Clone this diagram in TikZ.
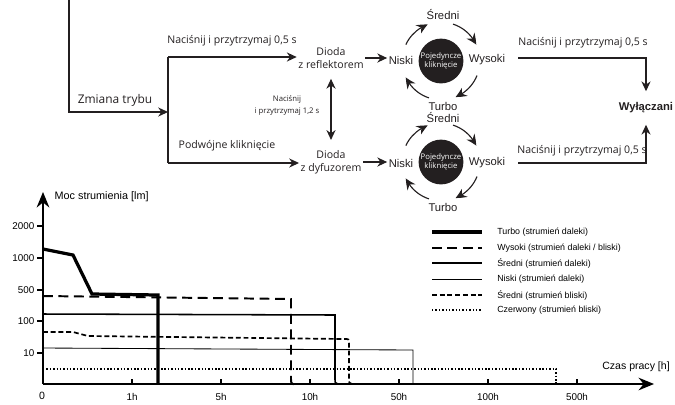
\documentclass[tikz,border=0pt]{standalone}
\usepackage{fontspec}
\setmainfont{Liberation Sans}
\newfontfamily\myriad{Open Sans}
\usetikzlibrary{arrows.meta,bending,positioning}
\definecolor{ink}{RGB}{35,31,32}

\tikzset{
  flow/.style={draw=ink,line width=0.8pt,-{Stealth[length=7pt,width=6.5pt]}},
  turn/.style={draw=ink,line width=0.8pt,-{Stealth[length=7.5pt,width=7pt,bend]}},
  say/.style={font=\myriad\fontsize{7.5}{9.5}\selectfont,text=ink,inner sep=1pt,align=center},
  small/.style={font=\myriad\fontsize{5.5}{8.5}\selectfont,text=ink,inner sep=1pt,align=center},
  mode/.style={font=\fontsize{8}{9}\selectfont,text=ink,inner sep=1pt},
  disc/.style={circle,fill=ink,minimum size=1.12cm,inner sep=0pt,text=white,align=center,
    font=\myriad\fontsize{5.5}{6.5}\selectfont},
  axis/.style={line width=1.1pt,-{Stealth[length=11pt,width=9pt]}},
  axtick/.style={line width=1pt},
  num/.style={font=\fontsize{7}{8}\selectfont,inner sep=1pt},
  leg/.style={font=\fontsize{6.3}{7}\selectfont,anchor=west,inner sep=0pt},
  turboline/.style={line width=2.3pt},
  wysokiline/.style={line width=1.4pt,dash pattern=on 7pt off 4pt},
  sredline/.style={line width=1.1pt},
  niskiline/.style={line width=0.6pt},
  sredbline/.style={line width=1.2pt,dash pattern=on 3.5pt off 2pt},
  redline/.style={line width=1.2pt,dash pattern=on 1pt off 1.4pt}
}

\begin{document}
\begin{tikzpicture}[x=0.025cm,y=-0.025cm]
\useasboundingbox (0,0) rectangle (675,404);

% mode switching
\coordinate (top) at (69,0);
\coordinate (fork) at (168,112);
\coordinate (forkT) at (168,57);
\coordinate (forkB) at (168,163);
\node[say,font=\myriad\fontsize{8.5}{10}\selectfont] (zmiana) at (115,100) {Zmiana trybu};
\node[say] (naci) at (232,41) {Naciśnij i przytrzymaj 0,5 s};
\node[say] (podw) at (227,146) {Podwójne kliknięcie};
\node[say] (refl) at (331,58) {Dioda\\z reflektorem};
\node[say] (dyf) at (331,162) {Dioda\\z dyfuzorem};
\node[small] (dwa) at (287,105) {Naciśnij\\i przytrzymaj 1,2 s};

\draw[flow] (top) |- (fork);
\draw[draw=ink,line width=0.8pt] (forkT) -- (forkB);
\draw[flow] (forkT) -- (forkT -| refl.west);
\draw[flow] (forkB) -- (forkB -| dyf.west);
\draw[flow,{Stealth[length=7pt,width=6.5pt]}-{Stealth[length=7pt,width=6.5pt]}]
  ([yshift=-6pt]refl.south) -- ([yshift=6pt]dyf.north);

% single click cycles
\node[disc] (discA) at (441,61) {Pojedyncze\\kliknięcie};
\node[disc] (discB) at (441,162) {Pojedyncze\\kliknięcie};
\node[mode] (niskiA) at (401,60) {Niski};
\node[mode] (sredniA) at (443,15) {Średni};
\node[mode] (wysokiA) at (487,60) {Wysoki};
\node[mode] (turboA) at (443,106) {Turbo};
\node[mode] (niskiB) at (401,163) {Niski};
\node[mode] (sredniB) at (443,118) {Średni};
\node[mode] (wysokiB) at (487,163) {Wysoki};
\node[mode] (turboB) at (443,207) {Turbo};

\draw[flow] (refl.east) -- (refl.east -| niskiA.west);
\draw[flow] (dyf.east) -- (dyf.east -| niskiB.west);

\foreach \c in {discA,discB} {
  \draw[turn] ([shift={(155:0.97cm)}]\c.center) arc[start angle=155,end angle=110,radius=0.97cm];
  \draw[turn] ([shift={(72:0.97cm)}]\c.center) arc[start angle=72,end angle=25,radius=0.97cm];
  \draw[turn] ([shift={(-22:0.97cm)}]\c.center) arc[start angle=-22,end angle=-68,radius=0.97cm];
  \draw[turn] ([shift={(-108:0.97cm)}]\c.center) arc[start angle=-108,end angle=-155,radius=0.97cm];
}

% switching off
\node[mode,font=\bfseries\fontsize{8}{9}\selectfont,inner ysep=8pt] (wyl) at (646,108) {Wyłączani};
\coordinate (outA) at (518,58);
\coordinate (outB) at (518,163);
\node[say] (offA) at (583,43) {Naciśnij i przytrzymaj 0,5 s};
\node[say] (offB) at (582,151) {Naciśnij i przytrzymaj 0,5 s};
\draw[flow] (outA) -| (wyl.north);
\draw[flow] (outB) -| (wyl.south);

% runtime chart
\draw[turboline] (43,249) -- (73,255) -- (92,294) -- (158,295) -- (158,384);
\draw[wysokiline] (43,296) -- (291,299) -- (291,379) .. controls (291,383) .. (295,385);
\draw[sredline] (43,314) -- (335,315) -- (335,379) .. controls (335,383) .. (338,384);
\draw[niskiline] (43,348) -- (413,350) -- (413,384);
\draw[sredbline] (43,332) -- (73,332) -- (88,336) -- (344,339) .. controls (349,339) .. (349,343)
  -- (349,379) .. controls (349,383) .. (352,384);
\draw[redline] (43,369) -- (556,369) -- (556,384);

\draw[axis] (43,384) -- (43,192);
\draw[axis] (43,384) -- (654,384);
\node[num,anchor=west,font=\fontsize{7.7}{9}\selectfont] at (53,197) {Moc strumienia [lm]};
\node[num,font=\fontsize{7.5}{9}\selectfont] at (636,367) {Czas pracy [h]};

\foreach \v/\y in {2000/226,1000/258,500/290,100/321,10/353} {
  \draw[axtick] (37,\y) -- (43,\y);
  \node[num,left] at (36,\y) {\v};
}
\foreach \t/\x in {1h/132,5h/221,10h/310,50h/399,100h/488,500h/577} {
  \draw[axtick] (\x,379) -- (\x,384);
  \node[num] at (\x,396.5) {\t};
}
\node[num,font=\fontsize{7.5}{9}\selectfont] at (42,395.5) {0};

% legend
\draw[turboline] (432,232) -- (482,232);
\node[leg] at (497,232) {Turbo (strumień daleki)};
\draw[wysokiline] (432,248) -- (482,248);
\node[leg] at (497,248) {Wysoki (strumień daleki / bliski)};
\draw[sredline] (432,263) -- (482,263);
\node[leg] at (497,263) {Średni (strumień daleki)};
\draw[niskiline] (432,279) -- (482,279);
\node[leg] at (497,279) {Niski (strumień daleki)};
\draw[sredbline] (432,295) -- (482,295);
\node[leg] at (497,295) {Średni (strumień bliski)};
\draw[redline] (432,310) -- (482,310);
\node[leg] at (497,310) {Czerwony (strumień bliski)};
\end{tikzpicture}
\end{document}
